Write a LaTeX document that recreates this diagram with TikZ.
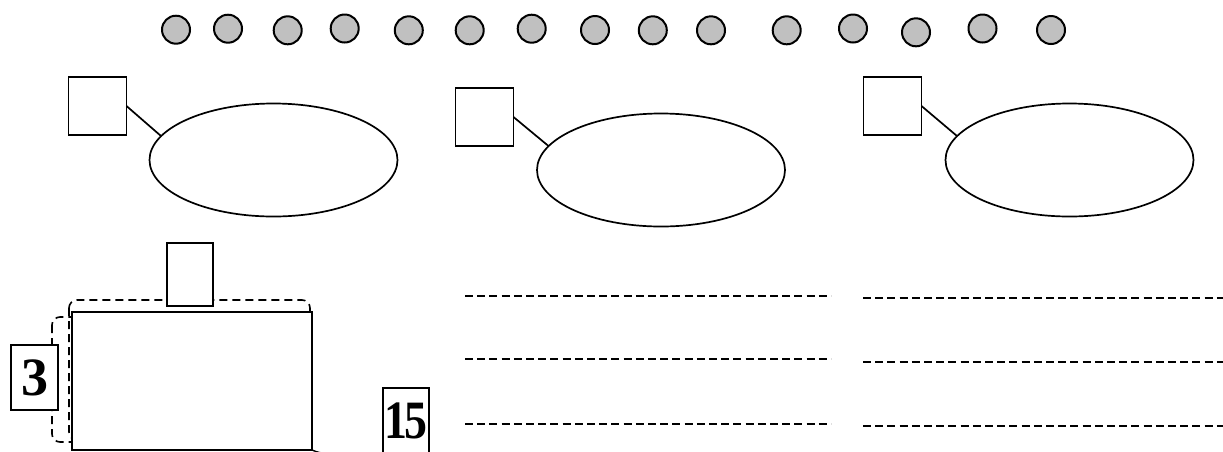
\documentclass[tikz,border=0pt]{standalone}
\usepackage{fontspec}
\setmainfont{Liberation Serif}
\usetikzlibrary{shapes.geometric}
\begin{document}
\begin{tikzpicture}[x=1pt,y=-1pt,
  bead/.style={circle,draw,line width=2pt,fill=beadgray,minimum size=28pt,inner sep=0pt},
  tag/.style={rectangle,draw,line width=1.6pt,fill=white,inner sep=0pt,outer sep=0pt},
  oval/.style={ellipse,draw,line width=1.7pt,inner sep=0pt,outer sep=0pt,minimum width=248pt,minimum height=113pt},
  link/.style={line width=1.7pt},
  guide/.style={line width=1.9pt,dash pattern=on 8pt off 4.2pt},
  numfont/.style={font=\fontsize{54}{54}\selectfont\bfseries}]
\definecolor{beadgray}{HTML}{C0C0C0}
\useasboundingbox (0,0) rectangle (1223,451);
\clip (0,0) rectangle (1223,451);

% row of beads
\foreach \i/\x/\y in {1/176/29.7,2/228/28.7,3/287.7/30.3,4/344.7/28.5,5/408.8/30.3,
  6/469.7/30.3,7/531.7/28.7,8/595/30,9/652.8/30.3,10/711/30.3,11/786.7/30.3,
  12/853/28.5,13/916/32.3,14/982.5/28.5,15/1051/30}
  \node[bead] (c\i) at (\x,\y) {};

% three labelled ovals
\node[tag,minimum width=58pt,minimum height=58pt] (s1) at (97.5,106) {};
\node[oval] (e1) at (273.5,160) {};
\draw[link] (s1.east) -- (e1.168);

\node[tag,minimum width=58pt,minimum height=58pt] (s2) at (484.5,117) {};
\node[oval] (e2) at (661,170) {};
\draw[link] (s2.east) -- (e2.168);

\node[tag,minimum width=58pt,minimum height=58pt] (s3) at (892.5,106) {};
\node[oval] (e3) at (1069.5,160) {};
\draw[link] (s3.east) -- (e3.168);

% dimensioned block
\draw[line width=1.6pt,dash pattern=on 8pt off 5pt,rounded corners=8pt] (69,300) rectangle (310,440);
\draw[line width=1.6pt,dash pattern=on 8pt off 5pt,rounded corners=8pt] (52,317) rectangle (150,442);
\node[tag,line width=1.8pt,minimum width=240pt,minimum height=138pt] (blk) at (192,381) {};
\node[tag,minimum width=46pt,minimum height=63pt] (top) at (190,274.5) {};
\node[tag,numfont,minimum width=47pt,minimum height=65pt] (n3) at (34.5,377.5) {3};
\node[tag,minimum width=46pt,minimum height=65pt] (n15) at (406,420.5)
  {\scalebox{0.85}[1]{\fontsize{54}{54}\selectfont\bfseries 1\kern-3pt5}};
\draw[line width=1.4pt] (blk.south east) .. controls (330,458) and (352,452) .. ([yshift=-5pt]n15.south west);

% writing lines
\foreach \y/\k in {296/1,359/2,424/3}{
  \coordinate (la\k) at (465,\y);
  \coordinate (lb\k) at (831,\y);
  \draw[guide] (la\k) -- (lb\k);
}
\foreach \y/\k in {298/1,362/2,426/3}{
  \coordinate (ra\k) at (863,\y);
  \coordinate (rb\k) at (1223,\y);
  \draw[guide] (ra\k) -- (rb\k);
}
\end{tikzpicture}
\end{document}
